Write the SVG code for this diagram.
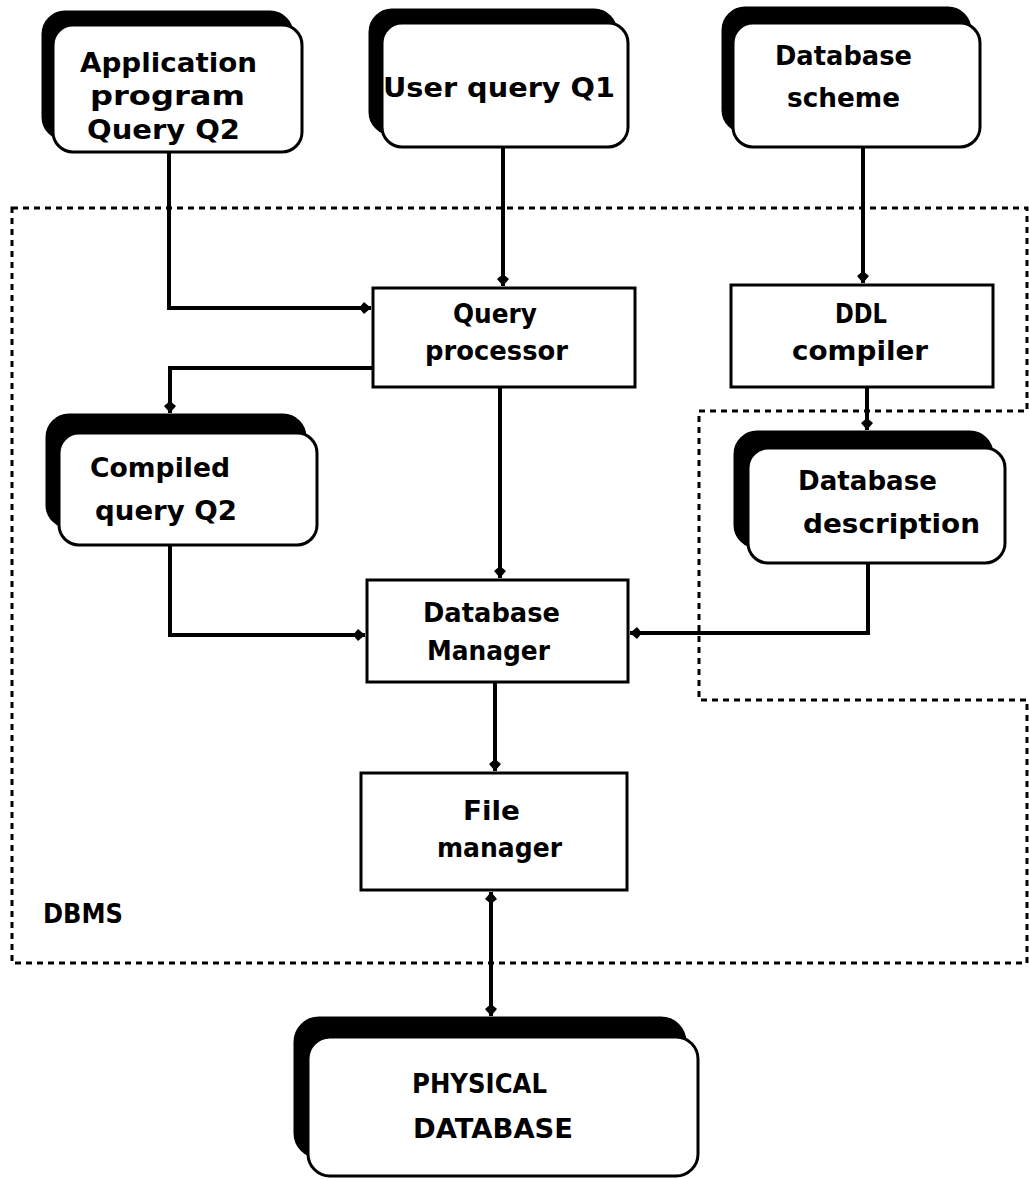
<svg xmlns="http://www.w3.org/2000/svg" width="1029" height="1179" viewBox="0 0 1029 1179">
<style>
.t{font-family:"DejaVu Sans","Liberation Sans",sans-serif;font-weight:bold;font-size:27px;fill:#000}
.sh{fill:#000;stroke:#000;stroke-width:3}
.fr{fill:#fff;stroke:#000;stroke-width:3}
.bx{fill:#fff;stroke:#000;stroke-width:3}
.c{fill:none;stroke:#000;stroke-width:4;stroke-linejoin:miter}
.d{fill:none;stroke:#000;stroke-width:3;stroke-dasharray:6 5}
</style>
<defs>
<marker id="ah" markerUnits="userSpaceOnUse" markerWidth="16" markerHeight="16" viewBox="-14 -8 16 16" refX="0" refY="0" orient="auto-start-reverse">
<path d="M0,0 L-7,-6 L-12,0 L-7,6 Z" fill="#000"/>
</marker>
</defs>
<rect width="1029" height="1179" fill="#fff"/>
<g id="dbms-boundary">
<path class="d" d="M12,208 H1027 V411 H699 V700 H1027 V963 H12 Z"/>
<text class="t" x="43" y="923" textLength="80" lengthAdjust="spacingAndGlyphs">DBMS</text>
</g>
<g id="connectors">
<path class="c" d="M169,152 V308 H371" marker-end="url(#ah)"/>
<path class="c" d="M503,147 V286" marker-end="url(#ah)"/>
<path class="c" d="M863,147 V283" marker-end="url(#ah)"/>
<path class="c" d="M373,368 H170 V413" marker-end="url(#ah)"/>
<path class="c" d="M867,387 V430" marker-end="url(#ah)"/>
<path class="c" d="M500,387 V578" marker-end="url(#ah)"/>
<path class="c" d="M170,545 V635 H365" marker-end="url(#ah)"/>
<path class="c" d="M868,563 V633 H630" marker-end="url(#ah)"/>
<path class="c" d="M495,682 V771" marker-end="url(#ah)"/>
<path class="c" d="M491,892 V1016" marker-start="url(#ah)" marker-end="url(#ah)"/>
</g>
<g id="application-program">
<rect class="sh" x="43" y="12" width="249" height="127" rx="22"/>
<rect class="fr" x="53" y="25" width="249" height="127" rx="20"/>
<text class="t" x="80" y="72" textLength="177" lengthAdjust="spacingAndGlyphs">Application</text>
<text class="t" x="90" y="105" textLength="155" lengthAdjust="spacingAndGlyphs">program</text>
<text class="t" x="87" y="139" textLength="153" lengthAdjust="spacingAndGlyphs">Query Q2</text>
</g>
<g id="user-query">
<rect class="sh" x="370" y="10" width="246" height="124" rx="22"/>
<rect class="fr" x="382" y="23" width="246" height="124" rx="20"/>
<text class="t" x="383" y="97" textLength="232" lengthAdjust="spacingAndGlyphs">User query  Q1</text>
</g>
<g id="database-scheme">
<rect class="sh" x="723" y="8" width="247" height="124" rx="22"/>
<rect class="fr" x="733" y="23" width="247" height="124" rx="20"/>
<text class="t" x="775" y="65" textLength="137" lengthAdjust="spacingAndGlyphs">Database</text>
<text class="t" x="787" y="107" textLength="113" lengthAdjust="spacingAndGlyphs">scheme</text>
</g>
<g id="query-processor">
<rect class="bx" x="373" y="288" width="262" height="99"/>
<text class="t" x="453" y="323" textLength="84" lengthAdjust="spacingAndGlyphs">Query</text>
<text class="t" x="425" y="360" textLength="143" lengthAdjust="spacingAndGlyphs">processor</text>
</g>
<g id="ddl-compiler">
<rect class="bx" x="731" y="285" width="262" height="102"/>
<text class="t" x="835" y="323" textLength="52" lengthAdjust="spacingAndGlyphs">DDL</text>
<text class="t" x="792" y="360" textLength="136" lengthAdjust="spacingAndGlyphs">compiler</text>
</g>
<g id="compiled-query">
<rect class="sh" x="47" y="415" width="258" height="112" rx="22"/>
<rect class="fr" x="59" y="433" width="258" height="112" rx="20"/>
<text class="t" x="90" y="477" textLength="140" lengthAdjust="spacingAndGlyphs">Compiled</text>
<text class="t" x="95" y="520" textLength="142" lengthAdjust="spacingAndGlyphs">query  Q2</text>
</g>
<g id="database-description">
<rect class="sh" x="735" y="432" width="257" height="115" rx="22"/>
<rect class="fr" x="748" y="448" width="257" height="115" rx="20"/>
<text class="t" x="798" y="490" textLength="139" lengthAdjust="spacingAndGlyphs">Database</text>
<text class="t" x="803" y="533" textLength="177" lengthAdjust="spacingAndGlyphs">description</text>
</g>
<g id="database-manager">
<rect class="bx" x="367" y="580" width="261" height="102"/>
<text class="t" x="423" y="622" textLength="137" lengthAdjust="spacingAndGlyphs">Database</text>
<text class="t" x="427" y="660" textLength="123" lengthAdjust="spacingAndGlyphs">Manager</text>
</g>
<g id="file-manager">
<rect class="bx" x="361" y="773" width="266" height="117"/>
<text class="t" x="463" y="820" textLength="57" lengthAdjust="spacingAndGlyphs">File</text>
<text class="t" x="437" y="857" textLength="125" lengthAdjust="spacingAndGlyphs">manager</text>
</g>
<g id="physical-database">
<rect class="sh" x="295" y="1018" width="390" height="139" rx="24"/>
<rect class="fr" x="308" y="1037" width="390" height="139" rx="22"/>
<text class="t" x="412" y="1093" textLength="135" lengthAdjust="spacingAndGlyphs">PHYSICAL</text>
<text class="t" x="413" y="1138" textLength="160" lengthAdjust="spacingAndGlyphs">DATABASE</text>
</g>
</svg>
